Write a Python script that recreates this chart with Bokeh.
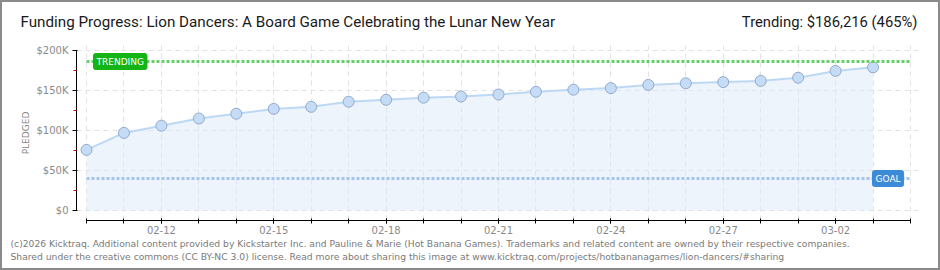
import pandas as pd
from bokeh.plotting import figure
from bokeh.layouts import column, row
from bokeh.models import (Range1d, FixedTicker, DatetimeTickFormatter, Label,
                          ColumnDataSource)
from bokeh.embed import file_html
from bokeh.resources import INLINE

# ---- data ----
dates = ["2026-02-10", "2026-02-11", "2026-02-12", "2026-02-13", "2026-02-14",
         "2026-02-15", "2026-02-16", "2026-02-17", "2026-02-18", "2026-02-19",
         "2026-02-20", "2026-02-21", "2026-02-22", "2026-02-23", "2026-02-24",
         "2026-02-25", "2026-02-26", "2026-02-27", "2026-02-28", "2026-03-01",
         "2026-03-02", "2026-03-03"]
pledged = [75800, 97000, 106000, 115000, 121000, 127000, 129600, 136000,
           138400, 141000, 142500, 145000, 148400, 151000, 153000, 157000,
           159000, 160500, 162000, 166000, 174500, 179000]
axis_end_date = "2026-03-04"
goal = 40000
trending = 186216
trending_pct = 465
y_ticks = [0, 50000, 100000, 150000, 200000]
y_minor_ticks = [25000, 75000, 125000, 175000]
y_tick_labels = ["$0", "$50K", "$100K", "$150K", "$200K"]
x_label_dates = ["2026-02-12", "2026-02-15", "2026-02-18", "2026-02-21",
                 "2026-02-24", "2026-02-27", "2026-03-02"]
title_text = "Funding Progress: Lion Dancers: A Board Game Celebrating the Lunar New Year"
footer1 = ("(c)2026 Kicktraq. Additional content provided by Kickstarter Inc. and Pauline & Marie "
           "(Hot Banana Games). Trademarks and related content are owned by their respective companies.")
footer2 = ("Shared under the creative commons (CC BY-NC 3.0) license. Read more about sharing this "
           "image at www.kicktraq.com/projects/hotbananagames/lion-dancers/#sharing")

# ---- conversions ----
DAY = 86400000.0
xd = pd.to_datetime(dates)
x_ms = [t.value / 1e6 for t in xd]
x_end = pd.Timestamp(axis_end_date).value / 1e6
all_days = [x_ms[0] + i * DAY for i in range(int(round((x_end - x_ms[0]) / DAY)) + 1)]
label_ms = [pd.Timestamp(d).value / 1e6 for d in x_label_dates]

src = ColumnDataSource(dict(x=xd, y=pledged, zero=[0] * len(pledged)))

# ---- geometry (page px; 2px CSS border around everything) ----
W = 936
HEAD_TOP, MAIN_TOP, FOOT_TOP, BOTTOM = 2, 40, 238, 268
frame_l, frame_r, frame_t, frame_b = 76, 920, 45, 220
data_l, data_r = 86, 910
y0_px, y200_px = 210, 50
px_per_day = (data_r - data_l) / ((x_end - x_ms[0]) / DAY)
px_per_val = (y0_px - y200_px) / 200000.0

x_start = x_ms[0] - (data_l - frame_l) / px_per_day * DAY
x_stop = x_end + (frame_r - data_r) / px_per_day * DAY
y_start = -(frame_b - y0_px) / px_per_val
y_stop = (y0_px - frame_t) / px_per_val


def xpx(px):
    return x_start + (px - frame_l) / px_per_day * DAY


def text_fig(top, bottom):
    h = bottom - top
    f = figure(width=W, height=h, output_backend="svg", toolbar_location=None,
               title=None, x_axis_type=None, y_axis_type=None,
               x_range=Range1d(0, W), y_range=Range1d(0, h),
               min_border=0, min_border_left=0, min_border_right=0,
               min_border_top=0, min_border_bottom=0)
    f.outline_line_color = None
    f.grid.visible = False
    f.background_fill_color = "white"
    f.border_fill_color = "white"
    return f


# ---- header ----
head = text_fig(HEAD_TOP, MAIN_TOP)
hh = MAIN_TOP - HEAD_TOP
head.add_layout(Label(x=20 - 2, y=hh - (21 - HEAD_TOP), text=title_text,
                      text_font="Roboto", text_font_size="15.2px",
                      text_color="#1a1a1a", text_baseline="middle", text_align="left"))
head.add_layout(Label(x=917 - 2, y=hh - (21 - HEAD_TOP),
                      text=f"Trending: ${trending:,} ({trending_pct}%)",
                      text_font="Roboto", text_font_size="14.8px",
                      text_color="#1a1a1a", text_baseline="middle", text_align="right"))

# ---- footer ----
foot = text_fig(FOOT_TOP, BOTTOM)
fh = BOTTOM - FOOT_TOP
foot.add_layout(Label(x=10 - 2, y=fh - (243 - FOOT_TOP), text=footer1,
                      text_font="DejaVu Sans", text_font_size="9.2px",
                      text_color="#7a7a7a", text_baseline="middle", text_align="left"))
foot.add_layout(Label(x=10 - 2, y=fh - (256 - FOOT_TOP), text=footer2,
                      text_font="DejaVu Sans", text_font_size="9.2px",
                      text_color="#7a7a7a", text_baseline="middle", text_align="left"))

# ---- main chart ----
MH = FOOT_TOP - MAIN_TOP
p = figure(width=W, height=MH, x_axis_type="datetime", output_backend="svg",
           toolbar_location=None, title=None,
           x_range=Range1d(x_start, x_stop), y_range=Range1d(y_start, y_stop),
           min_border_left=frame_l - 2, min_border_right=W - (frame_r - 2),
           min_border_top=frame_t - MAIN_TOP, min_border_bottom=FOOT_TOP - frame_b)
p.outline_line_color = None
p.background_fill_color = "white"
p.border_fill_color = "white"

grid_col = "#e2e2e2"
p.xgrid.ticker = FixedTicker(ticks=label_ms, minor_ticks=all_days)
p.xgrid.grid_line_color = grid_col
p.xgrid.grid_line_dash = "5 4"
p.xgrid.minor_grid_line_color = grid_col
p.xgrid.minor_grid_line_dash = "5 4"
p.xgrid.bounds = (0, 200000)
p.ygrid.ticker = FixedTicker(ticks=y_ticks)
p.ygrid.grid_line_color = grid_col
p.ygrid.grid_line_dash = "5 4"
p.ygrid.bounds = (x_ms[0], x_end)

xa = p.xaxis[0]
xa.ticker = FixedTicker(ticks=label_ms, minor_ticks=all_days)
xa.formatter = DatetimeTickFormatter(days="%m-%d", months="%m-%d", hours="%m-%d",
                                     years="%m-%d")
xa.bounds = (x_ms[0], x_end)
xa.axis_line_color = "black"
xa.major_tick_line_color = "black"
xa.minor_tick_line_color = "black"
xa.major_tick_in, xa.major_tick_out = 2, 3
xa.minor_tick_in, xa.minor_tick_out = 2, 3
xa.major_label_text_font = "DejaVu Sans"
xa.major_label_text_font_size = "10px"
xa.major_label_text_color = "#8a8a8a"
xa.major_label_standoff = 2

ya = p.yaxis[0]
ya.ticker = FixedTicker(ticks=y_ticks, minor_ticks=y_minor_ticks)
ya.major_label_overrides = {t: l for t, l in zip(y_ticks, y_tick_labels)}
ya.bounds = (0, 200000)
ya.axis_line_color = "black"
ya.major_tick_line_color = "black"
ya.minor_tick_line_color = "#e00000"
ya.major_tick_in, ya.major_tick_out = 1, 4
ya.minor_tick_in, ya.minor_tick_out = 0, 3
ya.major_label_text_font = "DejaVu Sans"
ya.major_label_text_font_size = "10px"
ya.major_label_text_color = "#8a8a8a"
ya.major_label_standoff = 4
ya.axis_label = "PLEDGED"
ya.axis_label_text_font = "DejaVu Sans"
ya.axis_label_text_font_size = "9px"
ya.axis_label_text_font_style = "normal"
ya.axis_label_text_color = "#888888"
ya.axis_label_standoff = 2

p.varea(x="x", y1="zero", y2="y", source=src,
        fill_color="#dceaf9", fill_alpha=0.5)
p.line(x="x", y="y", source=src, line_color="#bcd8f4", line_width=2)
p.scatter(x="x", y="y", source=src, size=11, fill_color="#c4dcf6",
          line_color="#94aacb", line_width=1)

p.segment(x0=[x_ms[0]], x1=[x_end], y0=[trending], y1=[trending],
          line_color="#66d066", line_width=3, line_dash="3 2")
p.segment(x0=[x_ms[0]], x1=[x_end], y0=[goal], y1=[goal],
          line_color="#a6c5ea", line_width=3, line_dash="3 2")

p.add_layout(Label(x=xpx(93), y=trending,
                   text="TRENDING", text_font="DejaVu Sans", text_font_size="9px",
                   text_color="white", text_baseline="middle", text_align="left",
                   background_fill_color="#14b414", border_line_color="#14b414",
                   padding=3, border_radius=2))
p.add_layout(Label(x=xpx(872), y=goal,
                   text="GOAL", text_font="DejaVu Sans", text_font_size="9px",
                   text_color="white", text_baseline="middle", text_align="left",
                   background_fill_color="#3d8ad8", border_line_color="#3d8ad8",
                   padding=3, border_radius=2))

layout = column(row(head), p, row(foot), spacing=0)
layout.styles = {"border": "2px solid #8a8a8a", "background-color": "white"}

open("out.html", "w").write(file_html(layout, INLINE))
